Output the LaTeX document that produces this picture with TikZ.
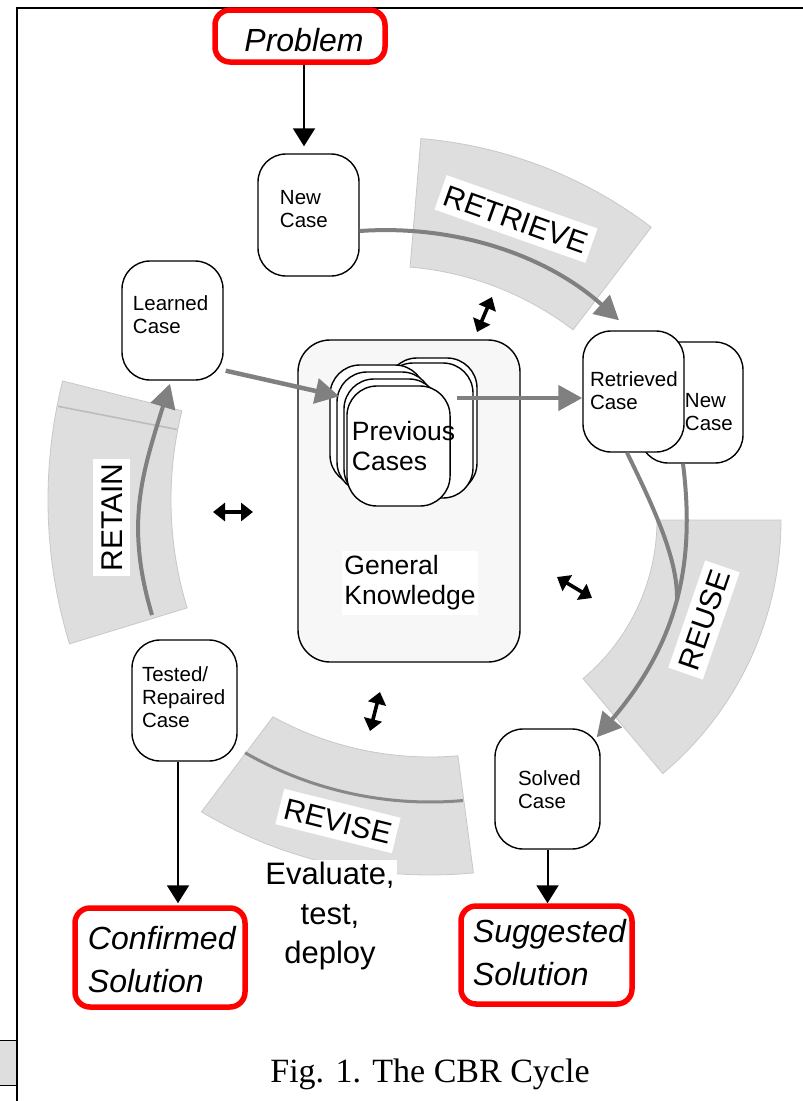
\documentclass[tikz,border=0pt]{standalone}
\usepackage{fontspec}
\setmainfont{Liberation Sans}
\newfontfamily\capfont{Liberation Serif}
\usetikzlibrary{arrows.meta,calc}
\definecolor{bandfill}{RGB}{222,222,222}
\definecolor{bandedge}{RGB}{200,200,200}
\definecolor{arrgray}{RGB}{128,128,128}
\definecolor{revline}{RGB}{136,136,136}
\definecolor{retline}{RGB}{188,188,188}
\definecolor{gkfill}{RGB}{247,247,247}
\definecolor{boxred}{RGB}{255,0,0}
\newcommand\mvtext[3]{\raisebox{#2}[\height][\depth]{\hspace*{#1}#3\hspace*{-#1}}}
\newcommand\txtlines[1]{\begin{tabular}{@{}l@{}}#1\end{tabular}}
\tikzset{
  cbox/.style={draw, line width=1.4pt, rounded corners=28pt, fill=white, inner sep=0pt, font=\fontsize{20.5}{23}\selectfont},
  redbox/.style={draw=boxred, line width=5.5pt, rounded corners=15pt, fill=white, inner sep=0pt, font=\fontsize{32}{43}\selectfont\itshape},
  card/.style={draw, line width=1.4pt, rounded corners=30pt, fill=white, inner sep=0pt, minimum width=95pt, minimum height=120pt},
  band/.style={fill=bandfill, draw=bandedge, line width=0.8pt},
  blabel/.style={fill=white, inner xsep=5pt, inner ysep=7.5pt, text height=21.5pt, text depth=0pt, font=\fontsize{30}{36}\selectfont},
  garrow/.style={draw=arrgray, line width=4.5pt, -{Triangle[length=24pt,width=25pt]}},
  barrow/.style={draw=black, line width=2pt, -{Triangle[length=18pt,width=22pt]}},
  dblarrow/.style={draw=black, line width=3.6pt, <->, >={Triangle[length=12pt,width=18pt]}},
}
\begin{document}
\begin{tikzpicture}[x=1pt,y=1pt]
\useasboundingbox (0,0) rectangle (803,-1101);
% frame
\draw[line width=2.2pt] (17,-1101) -- (17,-8) -- (803,-8);
\path[fill=bandfill] (0,-1040) rectangle (15.9,-1085);
\draw[line width=1pt] (0,-1040) -- (16,-1040) (0,-1085) -- (16,-1085);

% bands
\path[band] ($(384,-578)+(52.7:441)$) arc[start angle=52.7,end angle=85.2,radius=441]
  -- ($(384,-578)+(85.2:312)$) arc[start angle=85.2,end angle=52.7,radius=312] -- cycle;
\path[band] ($(540,-500)+(166:492)$) arc[start angle=166,end angle=197,radius=492]
  -- ($(540,-500)+(197:369)$) arc[start angle=197,end angle=166,radius=369] -- cycle;
\draw[retline, line width=1.6pt] ($(540,-500)+(169:370)$) -- ($(540,-500)+(169:491)$);
\path[band] ($(450,-520)+(0:331)$) arc[start angle=0,end angle=-50,radius=331]
  -- ($(450,-520)+(-50:207)$) arc[start angle=-50,end angle=0,radius=207] -- cycle;
\path[band] ($(430,-430)+(-118.7:327)$) arc[start angle=-118.7,end angle=-85.1,radius=327]
  -- ($(430,-430)+(-84.4:445)$) arc[start angle=-84.4,end angle=-120.9,radius=445] -- cycle;
\draw[revline, line width=3pt] ($(430,-430)+(-119.8:372)$) arc[start angle=-119.8,end angle=-84.9,radius=372];

% band labels
\node[blabel, rotate=-19.5] (lretrieve) at (516,-219) {RETRIEVE};
\node[blabel, rotate=90] (lretain) at (111.5,-517.5) {RETAIN};
\node[blabel, rotate=71] (lreuse) at (704,-620) {REUSE};
\node[blabel, rotate=-14] (lrevise) at (338,-821) {REVISE};

% general knowledge
\node[draw, line width=1.4pt, rounded corners=32pt, fill=gkfill, minimum width=222pt, minimum height=322pt] (gkbox) at (409,-501) {};
\node[fill=white, inner sep=2pt, font=\fontsize{26.5}{30}\selectfont] (gk) at (410,-583) {\txtlines{General\\Knowledge}};

% previous cases stack
\node[card, minimum width=90pt, minimum height=135pt] (b1) at (432,-425.5) {};
\node[card, minimum width=90pt, minimum height=135pt] (b2) at (428,-430.5) {};
\node[card] (c0) at (377.5,-425) {};
\node[card] (c1) at (384.5,-432) {};
\node[card] (c2) at (391.5,-439) {};
\node[card, font=\fontsize{26.5}{30}\selectfont] (c3) at (398.5,-446) {\mvtext{5pt}{-3.5pt}{\txtlines{Previous\\Cases}}};

% case boxes
\node[cbox, minimum width=101pt, minimum height=122pt] (nc1) at (308.5,-215) {\mvtext{-4.6pt}{3.8pt}{\txtlines{New\\Case}}};
\node[cbox, minimum width=101pt, minimum height=119pt] (lc) at (172.5,-320.5) {\mvtext{-1.9pt}{2.8pt}{\txtlines{Learned\\Case}}};
\node[cbox, minimum width=105pt, minimum height=121pt] (tc) at (184.5,-700.5) {\mvtext{-0.9pt}{0.3pt}{\txtlines{Tested/\\Repaired\\Case}}};
\node[cbox, minimum width=105pt, minimum height=120pt] (sc) at (547.5,-789) {\mvtext{1.9pt}{-3.2pt}{\txtlines{Solved\\Case}}};
\node[cbox, minimum width=103pt, minimum height=121pt] (nc2) at (691.5,-402.5) {\mvtext{17.4pt}{-11.7pt}{\txtlines{New\\Case}}};
\node[cbox, minimum width=101pt, minimum height=121pt] (rc) at (633.5,-391.5) {\mvtext{0.4pt}{-1.7pt}{\txtlines{Retrieved\\Case}}};

% red boxes
\node[redbox, minimum width=170pt, minimum height=52pt] (prob) at (300,-36) {\mvtext{4pt}{-4.3pt}{Problem}};
\node[redbox, minimum width=170pt, minimum height=99pt] (conf) at (160,-957.5) {\mvtext{1.8pt}{-4.65pt}{\txtlines{Confirmed\\Solution}}};
\node[redbox, minimum width=171pt, minimum height=98pt] (sugg) at (546.5,-955) {\mvtext{3pt}{-0.6pt}{\txtlines{Suggested\\Solution}}};

% free text
\node[fill=white, inner sep=2pt, font=\fontsize{31}{39.5}\selectfont, align=center] (eval) at (330,-916) {Evaluate,\\test,\\deploy};
\node[font=\capfont\fontsize{34}{40}\selectfont, anchor=base] (cap) at (430,-1082) {Fig. 1. The CBR Cycle};

% black arrows
\draw[barrow, shorten >=7pt] ([xshift=4pt]prob.south) -- ([xshift=-4.5pt]nc1.north);
\draw[barrow, shorten >=2pt] ([xshift=-6.5pt]tc.south) -- ([xshift=18pt]conf.north);
\draw[barrow] (sc.south) -- ([xshift=1pt]sugg.north);

% gray cycle arrows
\draw[garrow, line width=4pt] ([yshift=-16pt]nc1.east) to[bend left=23, looseness=0.9] ([xshift=-14.5pt,yshift=10pt]rc.north);
\draw[garrow] ([xshift=2pt,yshift=10pt]lc.south east) -- ([xshift=10pt,yshift=-32pt]c0.north west);
\draw[garrow] ([xshift=6pt,yshift=48pt]c3.east) -- ([yshift=-6.5pt]rc.west);
\coordinate (mergept) at (677,-600);
\draw[draw=arrgray, line width=4pt] ([xshift=-6.5pt]rc.south) .. controls (655,-510) and (678,-560) .. (mergept);
\draw[garrow, line width=4pt] ([xshift=-8.5pt]nc2.south) .. controls (695,-560) and (680,-640) .. ([xshift=-4pt,yshift=-9pt]sc.north east);
\coordinate (retainstart) at (152,-615);
\draw[garrow, line width=4pt] (retainstart) .. controls (125,-524) and (142,-474) .. ([xshift=-2.5pt,yshift=-3pt]lc.south);

% double arrows
\coordinate (d1a) at (477,-332); \coordinate (d1b) at (492,-297);
\coordinate (d2a) at (213,-512); \coordinate (d2b) at (253,-512);
\coordinate (d3a) at (557,-577); \coordinate (d3b) at (592,-598);
\coordinate (d4a) at (380,-692); \coordinate (d4b) at (370,-731);
\draw[dblarrow] (d1a) -- (d1b);
\draw[dblarrow] (d2a) -- (d2b);
\draw[dblarrow] (d3a) -- (d3b);
\draw[dblarrow] (d4a) -- (d4b);
\end{tikzpicture}
\end{document}
